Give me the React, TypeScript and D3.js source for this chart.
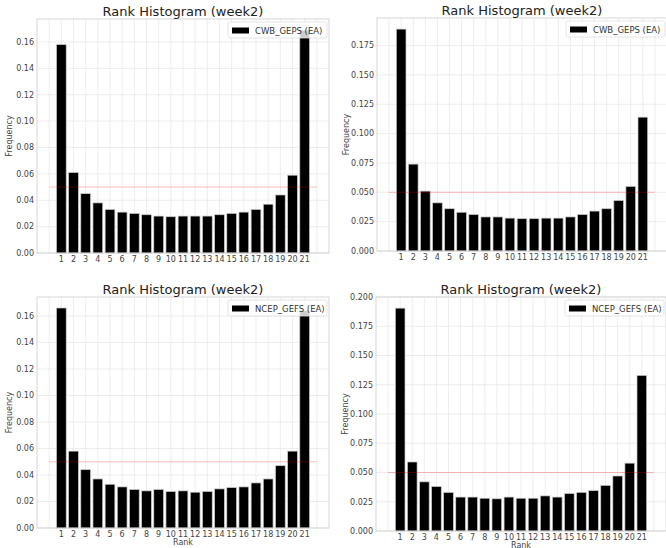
import * as d3 from "d3";

// ranks on the x axis
const RANKS = [1, 2, 3, 4, 5, 6, 7, 8, 9, 10, 11, 12, 13, 14, 15, 16, 17, 18, 19, 20, 21];

// frequencies per rank
const CWB_LEFT = [0.158, 0.061, 0.045, 0.038, 0.033, 0.031, 0.030, 0.029, 0.028, 0.0275, 0.028,
  0.028, 0.028, 0.029, 0.030, 0.031, 0.033, 0.037, 0.044, 0.059, 0.169];
const CWB_RIGHT = [0.189, 0.074, 0.051, 0.041, 0.036, 0.033, 0.031, 0.029, 0.029, 0.028, 0.0275,
  0.0275, 0.028, 0.028, 0.029, 0.031, 0.034, 0.036, 0.043, 0.055, 0.114];
const NCEP_LEFT = [0.166, 0.058, 0.044, 0.037, 0.033, 0.031, 0.029, 0.028, 0.029, 0.0275, 0.028,
  0.027, 0.0275, 0.0295, 0.0305, 0.031, 0.034, 0.037, 0.047, 0.058, 0.164];
const NCEP_RIGHT = [0.1905, 0.059, 0.042, 0.038, 0.033, 0.029, 0.029, 0.028, 0.0275, 0.029, 0.028,
  0.028, 0.030, 0.029, 0.032, 0.033, 0.0345, 0.039, 0.047, 0.058, 0.133];

const TITLE = "Rank Histogram (week2)";
const EXPECTED = 0.05; // red reference line

const FONT = "DejaVu Sans, sans-serif";

type PanelProps = {
  values: number[];
  label: string;
  step: number;
  fmt: string;
  left: number;
  top: number;
  width: number;
  height: number;
  showXLabel: boolean;
};

const Panel = ({ values, label, step, fmt, left, top, width, height, showXLabel }: PanelProps) => {
  const ymax = (d3.max(values) ?? 0) * 1.05;
  const x = d3.scaleLinear().domain([-1, 23]).range([left, left + width]);
  const y = d3.scaleLinear().domain([0, ymax]).range([top + height, top]);
  const yTicks = d3.range(0, Math.floor(ymax / step + 1e-6) + 1).map((i) => i * step);
  const xGrid = d3.range(0, 23);
  const format = d3.format(fmt);
  const bw = x(0.4) - x(0);
  const right = left + width;
  const bottom = top + height;

  const legendW = 99;
  const legendX = right - 2 - legendW;
  const legendY = top + 3;

  return (
    <g>
      {/* grid */}
      {yTicks.map((t) => (
        <line key={"gy" + t} x1={left} x2={right} y1={y(t)} y2={y(t)} stroke="#e8e8e8" strokeWidth={0.8} />
      ))}
      {xGrid.map((t) => (
        <line key={"gx" + t} x1={x(t)} x2={x(t)} y1={top} y2={bottom} stroke="#e8e8e8" strokeWidth={0.8} />
      ))}

      {/* bars */}
      {values.map((v, i) => (
        <rect
          key={"b" + i}
          x={x(RANKS[i]) - bw}
          y={y(v)}
          width={bw * 2}
          height={bottom - y(v)}
          fill="#000"
          stroke="#c8c8c8"
          strokeWidth={0.7}
        />
      ))}

      {/* expected frequency */}
      <line x1={x(0)} x2={x(22)} y1={y(EXPECTED)} y2={y(EXPECTED)} stroke="#ff0000" strokeOpacity={0.25} strokeWidth={1} />

      {/* spines */}
      <rect x={left} y={top} width={width} height={height} fill="none" stroke="#cccccc" strokeWidth={0.8} />

      {/* y ticks */}
      {yTicks.map((t) => (
        <text key={"ty" + t} x={left - 3} y={y(t)} dy="0.35em" textAnchor="end" fontSize={8} fill="#444" fontFamily={FONT}>
          {format(t)}
        </text>
      ))}
      {/* x ticks */}
      {RANKS.map((r) => (
        <text key={"tx" + r} x={x(r)} y={bottom + 9} textAnchor="middle" fontSize={8} fill="#444" fontFamily={FONT}>
          {r}
        </text>
      ))}

      <text x={(left + right) / 2} y={top - 3} textAnchor="middle" fontSize={13} fill="#222" fontFamily={FONT}>
        {TITLE}
      </text>
      <text
        transform={`translate(${left - (fmt === ".3f" ? 28 : 25)},${(top + bottom) / 2}) rotate(-90)`}
        textAnchor="middle"
        fontSize={8}
        fill="#444"
        fontFamily={FONT}
      >
        Frequency
      </text>
      {showXLabel && (
        <text x={(left + right) / 2} y={bottom + 16.5} textAnchor="middle" fontSize={8} fill="#444" fontFamily={FONT}>
          Rank
        </text>
      )}

      {/* legend */}
      <rect x={legendX} y={legendY} width={legendW} height={16} rx={2} fill="#fff" fillOpacity={0.8} stroke="#dddddd" strokeWidth={0.8} />
      <rect x={legendX + 4} y={legendY + 5.5} width={17} height={6} fill="#000" />
      <text x={legendX + 27} y={legendY + 11.5} fontSize={8.5} fill="#333" fontFamily={FONT}>
        {label}
      </text>
    </g>
  );
};

export default function App() {
  return (
    <svg width={666} height={548} style={{ position: "absolute", left: 0, top: 0, background: "#fff" }}>
      <Panel values={CWB_LEFT} label="CWB_GEPS (EA)" step={0.02} fmt=".2f" left={37} top={19} width={292} height={234} showXLabel={false} />
      <Panel values={CWB_RIGHT} label="CWB_GEPS (EA)" step={0.025} fmt=".3f" left={377} top={18} width={290} height={233} showXLabel={false} />
      <Panel values={NCEP_LEFT} label="NCEP_GEFS (EA)" step={0.02} fmt=".2f" left={37} top={297} width={292} height={231} showXLabel={true} />
      <Panel values={NCEP_RIGHT} label="NCEP_GEFS (EA)" step={0.025} fmt=".3f" left={376} top={297} width={290} height={234} showXLabel={true} />
    </svg>
  );
}
